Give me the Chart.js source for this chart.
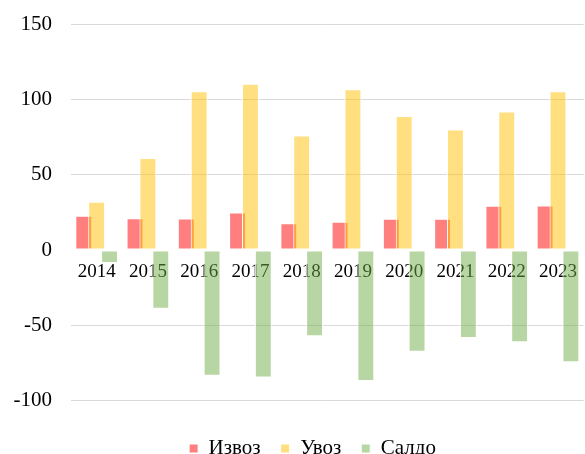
<!DOCTYPE html>
<html>
<head>
<meta charset="utf-8">
<script src="https://cdn.jsdelivr.net/npm/chart.js@4"></script>
<style>
html,body{margin:0;padding:0;overflow:hidden;background:#fff;width:585px;height:454px;}
#wrap{position:absolute;left:0;top:0;width:588px;height:469px;}
</style>
</head>
<body>
<div id="wrap"><canvas id="c" width="588" height="469"></canvas></div>
<script>
const categories = ['2014','2015','2016','2017','2018','2019','2020','2021','2022','2023'];
const izvoz = [22.7, 21, 20.9, 24.9, 17.8, 18.7, 20.7, 20.7, 29.3, 29.5];
const uvoz  = [32, 61, 105.3, 110.4, 76, 106.7, 88.9, 80, 92, 105.3];
const saldo = [-8.7, -39, -83.5, -84.7, -57.3, -86.9, -67.5, -58.4, -61.3, -74.5];
const seriesNames = ['Извоз', 'Увоз', 'Салдо'];
const yTicks = [-100, -50, 0, 50, 100, 150];

const FONT = 'Liberation Serif';
const common = {borderColor:'#ffffff', borderWidth:1, borderSkipped:false, categoryPercentage:0.754, barPercentage:1.31};

// draw datasets in index order so later series overlap earlier ones
const drawOrder = {
  id: 'drawOrder',
  beforeDatasetsDraw(chart) {
    const ctx = chart.ctx;
    const a = chart.chartArea;
    ctx.save();
    ctx.beginPath();
    ctx.rect(a.left, a.top, a.right - a.left, a.bottom - a.top);
    ctx.clip();
    for (let i = 0; i < chart.data.datasets.length; i++) {
      chart.getDatasetMeta(i).controller.draw();
    }
    ctx.restore();
    return false;
  }
};

// shift the legend to the right, as in the reference
const legendShift = {
  id: 'legendShift',
  afterLayout(chart) {
    if (chart.legend) { chart.legend.left += 18.5; chart.legend.right += 18.5; }
  }
};

new Chart(document.getElementById('c'), {
  type: 'bar',
  data: {
    labels: categories,
    datasets: [
      Object.assign({label: seriesNames[0], data: izvoz, backgroundColor:'rgba(255,0,0,0.5)'}, common),
      Object.assign({label: seriesNames[1], data: uvoz, backgroundColor:'rgba(255,192,0,0.5)'}, common),
      Object.assign({label: seriesNames[2], data: saldo, backgroundColor:'rgba(112,173,71,0.5)'}, common)
    ]
  },
  plugins: [drawOrder, legendShift],
  options: {
    responsive: false,
    animation: false,
    layout: {padding: {top: 24, left: 0, right: 0, bottom: 0}},
    plugins: {
      tooltip: {enabled:false},
      legend: {
        position: 'bottom',
        labels: {boxWidth: 9, boxHeight: 9, padding: 20, color:'#000', font:{family: FONT, size: 21}}
      }
    },
    scales: {
      x: {
        position: {y: 0},
        z: 1,
        grid: {display: false, drawTicks:false},
        border: {display: false},
        ticks: {color:'#000', font:{family: FONT, size: 19}, padding: 11, maxRotation:0, autoSkip:false}
      },
      y: {
        min: -111.5, max: 150,
        afterBuildTicks: (s) => { s.ticks = yTicks.map(v => ({value: v})); },
        afterFit: (s) => { s.width = 71; },
        grid: {color: (ctx) => ctx.tick && ctx.tick.value === 0 ? 'rgba(0,0,0,0)' : '#d9d9d9', lineWidth: 1,
               drawTicks: true, tickLength: 19, tickColor: 'rgba(0,0,0,0)'},
        border: {display: false},
        ticks: {color:'#000', font:{family: FONT, size: 21}, padding: 0}
      }
    }
  }
});
</script>
</body>
</html>
